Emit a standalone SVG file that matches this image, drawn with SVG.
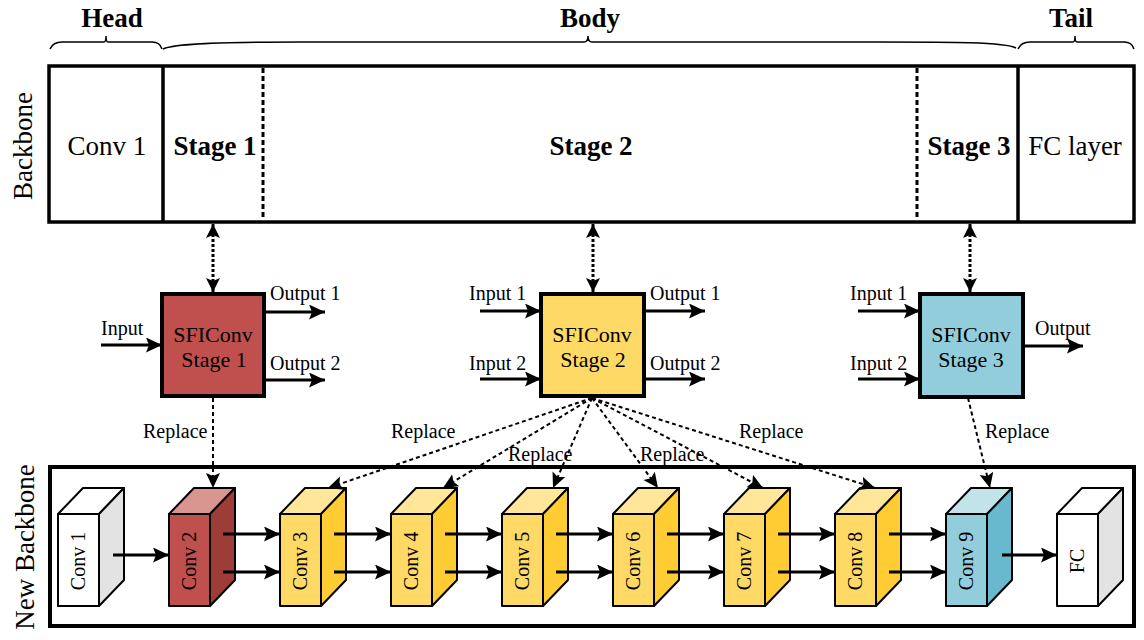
<svg xmlns="http://www.w3.org/2000/svg" width="1144" height="640" viewBox="0 0 1144 640">
<defs>
<style>
text{font-family:"Liberation Serif","Times New Roman",serif;fill:#000;stroke:none}
.h{font-size:27px;font-weight:bold;text-anchor:middle}
.t27{font-size:27px;text-anchor:middle}
.lbl{font-size:20px}
.sf{font-size:22px;text-anchor:middle}
.cv{font-size:20px;text-anchor:middle}
.frame{fill:#fff;stroke:#000;stroke-width:3.5}
.div{stroke:#000;stroke-width:3.5}
.ddiv{stroke:#000;stroke-width:3;stroke-dasharray:5 3}
.brace{fill:none;stroke:#000;stroke-width:1.5}
.box{stroke:#000;stroke-width:4}
.arr{stroke:#000;stroke-width:3.2;fill:none;marker-end:url(#ah)}
.dbl{stroke:#000;stroke-width:3;stroke-dasharray:3 2;fill:none;marker-start:url(#dh);marker-end:url(#dh)}
.rep{stroke:#000;stroke-width:2;stroke-dasharray:4 3;fill:none;marker-end:url(#rh)}
.cube polygon,.cube rect{stroke:#000;stroke-width:2;stroke-linejoin:round}
</style>
<marker id="ah" markerUnits="userSpaceOnUse" markerWidth="18" markerHeight="18" refX="16" refY="7.5" orient="auto"><path d="M0,0 L16,7.5 L0,15 L3,7.5 Z" fill="#000"/></marker>
<marker id="dh" markerUnits="userSpaceOnUse" markerWidth="16" markerHeight="16" refX="14" refY="7" orient="auto-start-reverse"><path d="M0,0 L14,7 L0,14 L3,7 Z" fill="#000"/></marker>
<marker id="rh" markerUnits="userSpaceOnUse" markerWidth="16" markerHeight="16" refX="15" refY="7" orient="auto"><path d="M0,0 L15,7 L0,14 L3,7 Z" fill="#000"/></marker>
</defs>
<rect width="1144" height="640" fill="#fff"/>

<g id="braces">
<path class="brace" d="M50,49 Q53,42 62,42 L104,42 Q106,42 106,36 Q106,42 108,42 L152,42 Q160,42 162,49"/>
<path class="brace" d="M163,49 C175,43 230,42 300,42 L584,42 Q588,42 588,36 Q588,42 592,42 L880,42 C950,42 1005,42 1016,48"/>
<path class="brace" d="M1018,49 Q1021,42 1030,42 L1073,42 Q1075,42 1075,36 Q1075,42 1077,42 L1124,42 Q1132,42 1134,49"/>
<text class="h" x="112" y="27">Head</text>
<text class="h" x="590" y="27">Body</text>
<text class="h" x="1071" y="27">Tail</text>
</g>

<g id="backbone">
<rect class="frame" x="49" y="66" width="1085" height="156"/>
<line class="div" x1="163" y1="66" x2="163" y2="222"/>
<line class="div" x1="1018" y1="66" x2="1018" y2="222"/>
<line class="ddiv" x1="263" y1="68" x2="263" y2="220"/>
<line class="ddiv" x1="917" y1="68" x2="917" y2="220"/>
<text class="t27" x="107" y="155">Conv 1</text>
<text class="h" x="215" y="155">Stage 1</text>
<text class="h" x="591" y="155">Stage 2</text>
<text class="h" x="969" y="155">Stage 3</text>
<text class="t27" x="1075" y="155">FC layer</text>
<text class="t27" transform="translate(32,146) rotate(-90)">Backbone</text>
</g>

<g id="sfi1">
<rect class="box" x="162" y="294" width="102" height="102" fill="#c0504d"/>
<text class="sf" x="213" y="342">SFIConv</text>
<text class="sf" x="214" y="367">Stage 1</text>
<text class="lbl" x="101" y="335">Input</text>
<text class="lbl" x="270" y="300">Output 1</text>
<text class="lbl" x="270" y="370">Output 2</text>
<text class="lbl" x="143" y="438">Replace</text>
</g>
<g id="sfi2">
<rect class="box" x="541" y="294" width="103" height="102" fill="#ffd966"/>
<text class="sf" x="592" y="342">SFIConv</text>
<text class="sf" x="593" y="367">Stage 2</text>
<text class="lbl" x="469" y="300">Input 1</text>
<text class="lbl" x="469" y="370">Input 2</text>
<text class="lbl" x="650" y="300">Output 1</text>
<text class="lbl" x="650" y="370">Output 2</text>
<text class="lbl" x="391" y="438">Replace</text>
<text class="lbl" x="508" y="461">Replace</text>
<text class="lbl" x="640" y="461">Replace</text>
<text class="lbl" x="739" y="438">Replace</text>
</g>
<g id="sfi3">
<rect class="box" x="920" y="294" width="103" height="103" fill="#92cddc"/>
<text class="sf" x="971" y="342">SFIConv</text>
<text class="sf" x="971" y="367">Stage 3</text>
<text class="lbl" x="850" y="300">Input 1</text>
<text class="lbl" x="850" y="370">Input 2</text>
<text class="lbl" x="1035" y="335">Output</text>
<text class="lbl" x="985" y="438">Replace</text>
</g>

<g id="newbackbone">
<rect x="50" y="467" width="1084" height="159" fill="none" stroke="#000" stroke-width="4"/>
<text class="t27" transform="translate(34,547) rotate(-90)">New Backbone</text>
</g>

<g id="conv1" class="cube">
<polygon points="58,514 83,488 124,488 99,514" fill="#fff"/>
<polygon points="99,514 124,488 124,580 99,606" fill="#e3e3e3"/>
<rect x="58" y="514" width="41" height="92" fill="#fff"/>
<text class="cv" transform="translate(85,561) rotate(-90)">Conv 1</text>
</g>
<g id="conv2" class="cube">
<polygon points="169,514 194,488 235,488 210,514" fill="#d9958f"/>
<polygon points="210,514 235,488 235,580 210,606" fill="#9c3d37"/>
<rect x="169" y="514" width="41" height="92" fill="#c0504d"/>
<text class="cv" transform="translate(196,561) rotate(-90)">Conv 2</text>
</g>
<g id="conv3" class="cube">
<polygon points="280,514 305,488 346,488 321,514" fill="#ffe699"/>
<polygon points="321,514 346,488 346,580 321,606" fill="#ffcc33"/>
<rect x="280" y="514" width="41" height="92" fill="#ffd966"/>
<text class="cv" transform="translate(307,561) rotate(-90)">Conv 3</text>
</g>
<g id="conv4" class="cube">
<polygon points="391,514 416,488 457,488 432,514" fill="#ffe699"/>
<polygon points="432,514 457,488 457,580 432,606" fill="#ffcc33"/>
<rect x="391" y="514" width="41" height="92" fill="#ffd966"/>
<text class="cv" transform="translate(418,561) rotate(-90)">Conv 4</text>
</g>
<g id="conv5" class="cube">
<polygon points="502,514 527,488 568,488 543,514" fill="#ffe699"/>
<polygon points="543,514 568,488 568,580 543,606" fill="#ffcc33"/>
<rect x="502" y="514" width="41" height="92" fill="#ffd966"/>
<text class="cv" transform="translate(529,561) rotate(-90)">Conv 5</text>
</g>
<g id="conv6" class="cube">
<polygon points="613,514 638,488 679,488 654,514" fill="#ffe699"/>
<polygon points="654,514 679,488 679,580 654,606" fill="#ffcc33"/>
<rect x="613" y="514" width="41" height="92" fill="#ffd966"/>
<text class="cv" transform="translate(640,561) rotate(-90)">Conv 6</text>
</g>
<g id="conv7" class="cube">
<polygon points="724,514 749,488 790,488 765,514" fill="#ffe699"/>
<polygon points="765,514 790,488 790,580 765,606" fill="#ffcc33"/>
<rect x="724" y="514" width="41" height="92" fill="#ffd966"/>
<text class="cv" transform="translate(751,561) rotate(-90)">Conv 7</text>
</g>
<g id="conv8" class="cube">
<polygon points="835,514 860,488 901,488 876,514" fill="#ffe699"/>
<polygon points="876,514 901,488 901,580 876,606" fill="#ffcc33"/>
<rect x="835" y="514" width="41" height="92" fill="#ffd966"/>
<text class="cv" transform="translate(862,561) rotate(-90)">Conv 8</text>
</g>
<g id="conv9" class="cube">
<polygon points="946,514 971,488 1012,488 987,514" fill="#c3e3ea"/>
<polygon points="987,514 1012,488 1012,580 987,606" fill="#69b9ce"/>
<rect x="946" y="514" width="41" height="92" fill="#92cddc"/>
<text class="cv" transform="translate(973,561) rotate(-90)">Conv 9</text>
</g>
<g id="fc" class="cube">
<polygon points="1057,514 1082,488 1123,488 1098,514" fill="#fff"/>
<polygon points="1098,514 1123,488 1123,580 1098,606" fill="#e3e3e3"/>
<rect x="1057" y="514" width="41" height="92" fill="#fff"/>
<text class="cv" transform="translate(1084,561) rotate(-90)">FC</text>
</g>

<g id="connectors">
<line class="dbl" x1="213" y1="224" x2="213" y2="292"/>
<line class="dbl" x1="593" y1="224" x2="593" y2="292"/>
<line class="dbl" x1="970" y1="224" x2="970" y2="292"/>

<line class="arr" x1="101" y1="345" x2="162" y2="345"/>
<line class="arr" x1="264" y1="312" x2="325" y2="312"/>
<line class="arr" x1="264" y1="380" x2="325" y2="380"/>

<line class="arr" x1="480" y1="311" x2="541" y2="311"/>
<line class="arr" x1="480" y1="379" x2="541" y2="379"/>
<line class="arr" x1="644" y1="311" x2="705" y2="311"/>
<line class="arr" x1="644" y1="379" x2="705" y2="379"/>

<line class="arr" x1="858" y1="311" x2="920" y2="311"/>
<line class="arr" x1="858" y1="379" x2="920" y2="379"/>
<line class="arr" x1="1023" y1="346" x2="1083" y2="346"/>

<line class="rep" x1="213" y1="398" x2="213" y2="488"/>
<line class="rep" x1="592" y1="398" x2="328" y2="488"/>
<line class="rep" x1="592" y1="398" x2="443" y2="488"/>
<line class="rep" x1="592" y1="398" x2="553" y2="488"/>
<line class="rep" x1="592" y1="398" x2="658" y2="488"/>
<line class="rep" x1="592" y1="398" x2="763" y2="488"/>
<line class="rep" x1="592" y1="398" x2="875" y2="488"/>
<line class="rep" x1="968" y1="398" x2="990" y2="488"/>

<line class="arr" x1="113" y1="555" x2="169" y2="555"/>
<line class="arr" x1="223" y1="534" x2="280" y2="534"/>
<line class="arr" x1="223" y1="572" x2="280" y2="572"/>
<line class="arr" x1="334" y1="534" x2="391" y2="534"/>
<line class="arr" x1="334" y1="572" x2="391" y2="572"/>
<line class="arr" x1="445" y1="534" x2="502" y2="534"/>
<line class="arr" x1="445" y1="572" x2="502" y2="572"/>
<line class="arr" x1="556" y1="534" x2="613" y2="534"/>
<line class="arr" x1="556" y1="572" x2="613" y2="572"/>
<line class="arr" x1="667" y1="534" x2="724" y2="534"/>
<line class="arr" x1="667" y1="572" x2="724" y2="572"/>
<line class="arr" x1="778" y1="534" x2="835" y2="534"/>
<line class="arr" x1="778" y1="572" x2="835" y2="572"/>
<line class="arr" x1="889" y1="534" x2="946" y2="534"/>
<line class="arr" x1="889" y1="572" x2="946" y2="572"/>
<line class="arr" x1="1002" y1="555" x2="1057" y2="555"/>
</g>
</svg>
